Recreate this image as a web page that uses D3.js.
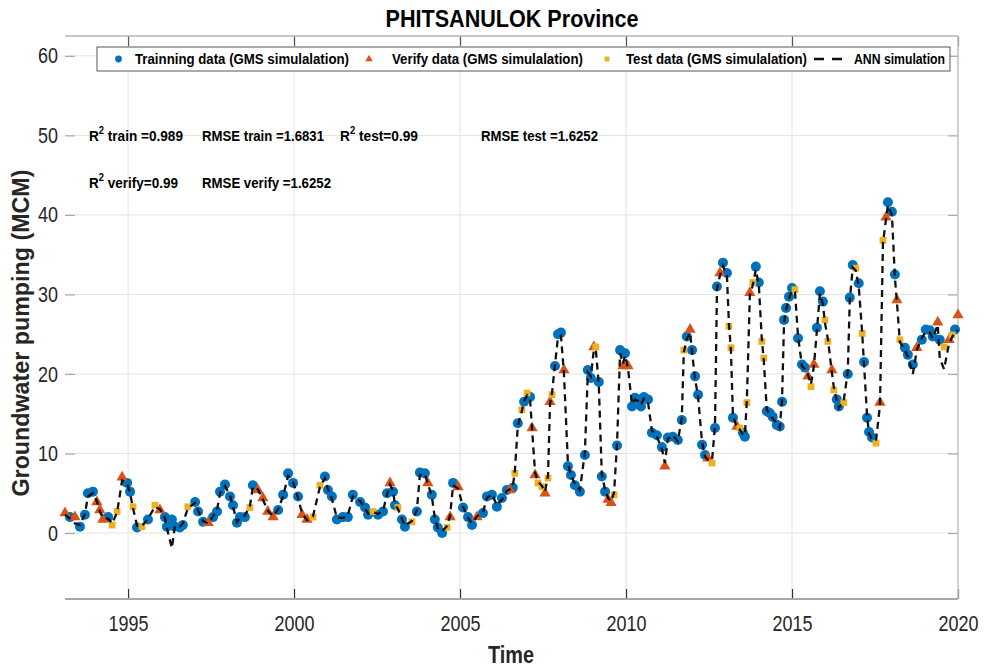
<!DOCTYPE html>
<html><head><meta charset="utf-8">
<script src="https://cdn.jsdelivr.net/npm/d3@7"></script>
<style>body{margin:0;background:#fff;} svg{display:block;font-family:"Liberation Sans",Arial,sans-serif;}</style>
</head><body><svg id="c" width="984" height="670"></svg>
<script>
// ---------- data ----------
const time = [1993.10,1993.25,1993.40,1993.55,1993.70,1993.79,1993.94,1994.06,1994.15,1994.24,
1994.40,1994.52,1994.67,1994.82,1994.97,1995.06,1995.15,1995.27,1995.42,1995.60,
1995.81,1995.96,1996.11,1996.17,1996.32,1996.41,1996.56,1996.65,1996.80,1997.02,
1997.11,1997.26,1997.41,1997.56,1997.68,1997.77,1997.92,1998.07,1998.16,1998.28,
1998.37,1998.52,1998.67,1998.76,1998.91,1999.06,1999.21,1999.37,1999.52,1999.67,
1999.82,1999.97,2000.12,2000.24,2000.39,2000.57,2000.78,2000.93,2001.02,2001.14,
2001.29,2001.47,2001.62,2001.77,2001.99,2002.14,2002.23,2002.38,2002.53,2002.68,
2002.80,2002.89,2002.98,2003.04,2003.13,2003.25,2003.34,2003.55,2003.70,2003.79,
2003.94,2004.03,2004.15,2004.24,2004.33,2004.46,2004.61,2004.70,2004.79,2004.94,
2005.09,2005.24,2005.36,2005.51,2005.69,2005.81,2005.96,2006.11,2006.26,2006.41,
2006.50,2006.59,2006.65,2006.74,2006.86,2006.93,2007.02,2007.11,2007.17,2007.26,
2007.35,2007.47,2007.56,2007.65,2007.71,2007.77,2007.86,2007.95,2008.04,2008.13,
2008.25,2008.34,2008.46,2008.61,2008.76,2008.85,2008.94,2009.03,2009.09,2009.18,
2009.27,2009.37,2009.46,2009.55,2009.64,2009.73,2009.82,2009.91,2009.97,2010.06,
2010.18,2010.27,2010.36,2010.45,2010.54,2010.66,2010.78,2010.93,2011.08,2011.17,
2011.26,2011.41,2011.56,2011.68,2011.74,2011.83,2011.93,2011.99,2012.08,2012.17,
2012.29,2012.38,2012.47,2012.59,2012.68,2012.74,2012.83,2012.92,2013.04,2013.10,
2013.16,2013.22,2013.34,2013.43,2013.52,2013.58,2013.64,2013.73,2013.82,2013.91,
2014.00,2014.09,2014.15,2014.24,2014.33,2014.42,2014.54,2014.63,2014.70,2014.76,
2014.82,2014.91,2015.00,2015.09,2015.18,2015.30,2015.39,2015.48,2015.57,2015.66,
2015.75,2015.84,2015.93,2015.99,2016.08,2016.20,2016.26,2016.35,2016.41,2016.56,
2016.68,2016.74,2016.83,2016.92,2017.01,2017.11,2017.17,2017.26,2017.32,2017.41,
2017.53,2017.65,2017.74,2017.83,2017.89,2018.01,2018.10,2018.16,2018.25,2018.40,
2018.49,2018.64,2018.76,2018.91,2019.03,2019.15,2019.24,2019.39,2019.45,2019.58,
2019.73,2019.82,2019.91,2020.00];

// GMS simulated groundwater pumping (MCM)
const gms = [2.5,2.0,2.0,0.8,2.3,5.0,5.2,3.9,2.9,1.7,
2.0,1.0,2.7,7.0,6.3,5.2,3.3,0.7,0.8,1.7,
3.5,2.9,2.0,0.8,1.7,0.8,0.7,1.0,3.3,3.9,
2.7,1.4,1.3,2.0,2.7,5.2,6.1,4.6,3.5,1.3,
2.0,2.0,3.2,6.0,5.4,4.4,2.7,2.0,2.9,4.8,
7.5,6.3,4.6,2.3,1.7,2.0,6.0,7.1,5.4,4.6,
1.7,2.0,2.0,4.8,3.9,3.2,2.3,2.7,2.3,2.7,
5.0,6.3,5.2,3.5,3.2,1.7,0.8,1.4,2.7,7.6,
7.5,6.3,4.8,1.7,0.7,0.0,0.7,2.0,6.3,5.8,
3.2,2.0,1.0,2.0,2.5,4.6,4.8,3.3,4.4,5.4,
5.4,5.7,7.5,13.8,15.5,16.5,17.6,17.1,13.2,7.3,
6.3,5.8,5.0,6.9,16.5,17.4,21.0,25.0,25.2,20.5,
8.4,7.3,6.0,5.2,9.8,20.5,19.5,23.4,23.4,19.0,
7.1,5.2,4.2,3.8,4.8,11.0,23.0,21.0,22.6,21.0,
15.9,17.0,16.8,15.9,17.1,16.8,12.6,12.3,10.8,8.4,
12.0,12.1,11.7,14.2,23.0,24.7,25.6,23.0,19.7,17.4,
11.1,9.8,9.4,8.8,13.2,31.0,32.7,34.0,32.7,26.0,
23.3,14.5,13.4,13.2,12.6,12.1,16.4,30.2,31.5,33.5,
31.5,24.1,22.0,15.3,15.1,14.6,13.6,13.4,16.5,26.8,
28.3,29.7,30.8,30.6,24.5,21.2,20.8,19.7,18.4,21.2,
25.8,30.4,29.1,26.8,24.1,20.5,18.0,16.8,15.9,16.4,
20.0,29.6,33.7,33.3,31.4,25.1,21.5,14.5,12.7,12.0,
11.3,16.4,36.8,39.7,41.6,40.4,32.5,29.3,24.3,23.3,
22.4,21.2,23.3,24.3,25.6,25.5,24.7,26.5,24.3,23.4,
24.3,24.9,25.6,27.4];

// data subset of each point: 0 = training, 1 = verify, 2 = test
const subset = [1,0,1,0,0,0,0,1,1,1,
0,2,2,1,0,0,2,0,2,0,
2,1,0,0,0,0,0,0,2,0,
0,0,1,0,0,0,0,0,0,0,
0,0,2,0,1,1,1,1,0,0,
0,0,0,1,1,2,2,0,0,0,
0,0,0,0,0,0,0,2,0,0,
0,1,0,0,2,0,0,2,0,0,
0,1,0,0,0,0,2,1,0,1,
0,0,0,1,0,0,0,0,0,0,
1,0,2,0,2,0,2,0,1,1,
2,2,1,2,1,2,0,0,0,1,
0,0,0,0,0,0,0,1,2,0,
0,0,1,1,2,0,0,1,0,1,
0,0,0,0,0,0,0,0,0,1,
0,0,0,0,2,0,1,0,0,0,
0,0,1,2,0,0,1,0,0,2,
2,0,1,2,0,0,2,1,2,0,
0,2,2,0,0,0,0,0,0,0,
0,0,0,2,0,0,0,1,2,1,
0,0,0,2,2,1,2,0,0,2,
0,0,0,2,0,2,0,0,0,0,
2,1,2,1,0,0,0,1,2,0,
0,0,1,0,0,0,0,1,0,2,
1,2,0,1];

// ANN simulation (MCM)
const ann = [2.3,1.8,1.2,1.0,2.4,4.6,5.0,4.0,2.7,1.9,
1.8,1.2,2.6,6.6,6.2,5.0,3.1,0.9,0.9,1.8,
3.3,3.0,1.9,0.6,-1.9,0.9,0.8,1.2,3.1,3.8,
2.8,1.5,1.2,2.1,2.9,5.0,5.9,4.7,3.3,1.4,
1.9,2.2,3.4,5.8,5.5,4.2,2.8,2.1,3.0,4.6,
7.2,6.4,4.4,2.5,1.6,2.1,5.8,6.9,5.5,4.3,
1.9,1.9,2.2,4.6,4.0,3.1,2.4,2.6,2.4,2.8,
4.8,6.1,5.3,3.6,3.0,1.8,0.9,1.5,2.9,7.3,
7.4,6.2,4.6,1.9,0.6,0.2,0.9,2.2,6.0,5.6,
3.3,1.9,1.2,2.1,2.6,4.4,4.9,3.5,4.2,5.3,
5.5,5.9,7.7,13.5,15.3,16.6,17.3,16.8,13.0,7.6,
6.5,5.9,5.2,7.2,16.2,17.6,21.2,24.6,24.8,20.1,
8.7,7.2,6.2,5.4,10.1,20.2,19.7,23.0,23.1,18.6,
7.4,5.4,4.4,4.0,5.1,11.3,22.6,21.3,22.3,20.7,
16.2,16.8,16.6,16.1,16.9,16.5,12.9,12.1,10.6,8.8,
11.8,12.3,11.5,14.5,22.7,24.4,25.2,22.7,19.4,17.1,
11.4,9.6,9.2,9.1,13.5,30.7,32.4,33.6,32.3,26.3,
23.0,14.8,13.2,13.0,12.4,12.3,16.7,29.9,31.2,33.1,
31.2,24.4,21.7,15.5,14.9,14.4,13.8,13.2,16.8,26.5,
28.0,29.5,30.5,30.3,24.8,21.0,20.6,19.9,18.7,21.0,
25.5,30.1,28.8,26.5,24.4,20.2,18.3,16.6,15.7,16.7,
20.3,29.3,33.4,33.0,31.0,25.4,21.2,14.8,12.5,11.8,
11.6,16.1,36.5,39.4,41.2,40.0,32.1,29.0,24.0,23.0,
22.2,20.0,23.0,24.5,25.3,25.2,24.5,26.2,22.0,20.6,
23.8,24.6,25.3,25.5];

const xTicks = [1995,2000,2005,2010,2015,2020];
const yTicks = [0,10,20,30,40,50,60];
const seriesNames = ["Trainning data (GMS simulalation)","Verify data (GMS simulalation)","Test data (GMS simulalation)","ANN simulation"];
const statR2 = [true,false,true,false,true,false];
const statText = [" train =0.989","RMSE train =1.6831"," test=0.99","RMSE test =1.6252"," verify=0.99","RMSE verify =1.6252"];
const titleText = "PHITSANULOK Province";
const xLabel = "Time";
const yLabel = "Groundwater pumping (MCM)";

// ---------- layout ----------
const P = {l:65, r:958, t:36, b:599};
const colors = ["#0072BD","#D95319","#EDB120"];
const svg = d3.select("#c");
const x = d3.scaleLinear().domain([1993.1,2020]).range([P.l,P.r]);
const y = d3.scaleLinear().domain([-8.3,62.5]).range([P.b,P.t]);

svg.append("rect").attr("width",984).attr("height",670).attr("fill","#fff");

// grid
const grid = svg.append("g");
grid.selectAll(".gx").data(xTicks).join("line")
  .attr("x1",d=>x(d)).attr("x2",d=>x(d)).attr("y1",P.t).attr("y2",P.b)
  .attr("stroke","#e3e3e3").attr("stroke-width",1);
grid.selectAll(".gy").data(yTicks).join("line")
  .attr("x1",P.l).attr("x2",P.r).attr("y1",d=>y(d)).attr("y2",d=>y(d))
  .attr("stroke","#e3e3e3").attr("stroke-width",1);

// axes
const fix = (g, col) => { g.select(".domain").remove(); g.selectAll(".tick line").attr("stroke",col).attr("stroke-width",1.2); };
const gxB = svg.append("g").attr("transform",`translate(0,${P.b})`)
  .call(d3.axisBottom(x).tickValues(xTicks).tickFormat(d3.format("d")).tickSizeInner(-10).tickSizeOuter(0).tickPadding(16.5));
fix(gxB,"#333");
const gxT = svg.append("g").attr("transform",`translate(0,${P.t})`)
  .call(d3.axisTop(x).tickValues(xTicks).tickFormat("").tickSizeInner(-10).tickSizeOuter(0));
fix(gxT,"#555");
const gyL = svg.append("g").attr("transform",`translate(${P.l},0)`)
  .call(d3.axisLeft(y).tickValues(yTicks).tickSizeInner(-10).tickSizeOuter(0).tickPadding(7));
fix(gyL,"#aaa");
const gyR = svg.append("g").attr("transform",`translate(${P.r},0)`)
  .call(d3.axisRight(y).tickValues(yTicks).tickFormat("").tickSizeInner(-10).tickSizeOuter(0));
fix(gyR,"#aaa");
svg.selectAll(".tick text").attr("font-family","'Liberation Sans',Arial,sans-serif")
  .attr("font-size",22).attr("fill","#262626")
  .attr("textLength",function(){return this.textContent.length*10;}).attr("lengthAdjust","spacingAndGlyphs");
// keep the last year label inside the picture
gxB.selectAll(".tick text").filter(d=>d===2020).attr("text-anchor","end").attr("x",20);

// box lines (no left line)
svg.append("line").attr("x1",P.l).attr("x2",P.r).attr("y1",P.t).attr("y2",P.t).attr("stroke","#b4b4b4").attr("stroke-width",1.5);
svg.append("line").attr("x1",P.l).attr("x2",P.r).attr("y1",P.b).attr("y2",P.b).attr("stroke","#a8a8a8").attr("stroke-width",1.8);
svg.append("line").attr("x1",P.r).attr("x2",P.r).attr("y1",P.t).attr("y2",P.b).attr("stroke","#c4c4c4").attr("stroke-width",1.5);

// points
const pts = time.map((t,i)=>({t, v:gms[i], s:subset[i], a:ann[i]}));
const plot = svg.append("g");
plot.selectAll(".tr").data(pts.filter(d=>d.s===0)).join("circle")
  .attr("cx",d=>x(d.t)).attr("cy",d=>y(d.v)).attr("r",5).attr("fill",colors[0]);
plot.selectAll(".va").data(pts.filter(d=>d.s===1)).join("path")
  .attr("d",d3.symbol(d3.symbolTriangle,55))
  .attr("transform",d=>`translate(${x(d.t)},${y(d.v)})`).attr("fill",colors[1]);
plot.selectAll(".te").data(pts.filter(d=>d.s===2)).join("path")
  .attr("d",d3.symbol(d3.symbolSquare,46))
  .attr("transform",d=>`translate(${x(d.t)},${y(d.v)})`).attr("fill",colors[2]);
plot.append("path").datum(pts)
  .attr("d",d3.line().x(d=>x(d.t)).y(d=>y(d.a)))
  .attr("fill","none").attr("stroke","#111").attr("stroke-width",2.3).attr("stroke-dasharray","7,5");

// legend
const lg = svg.append("g");
lg.append("rect").attr("x",97).attr("y",47).attr("width",853).attr("height",24)
  .attr("fill","#fff").attr("stroke","#444").attr("stroke-width",0.9);
const ly = 59;
lg.append("circle").attr("cx",118.5).attr("cy",ly).attr("r",3.4).attr("fill",colors[0]);
lg.append("path").attr("d",d3.symbol(d3.symbolTriangle,24)).attr("transform",`translate(369,${ly})`).attr("fill",colors[1]);
lg.append("path").attr("d",d3.symbol(d3.symbolSquare,24)).attr("transform",`translate(607,${ly})`).attr("fill",colors[2]);
lg.append("line").attr("x1",814).attr("x2",846).attr("y1",ly).attr("y2",ly)
  .attr("stroke","#111").attr("stroke-width",2.3).attr("stroke-dasharray","10,8");
const lgX = [[135,214],[392,191],[626,181],[854,91]];
seriesNames.forEach((n,i)=>{
  lg.append("text").attr("x",lgX[i][0]).attr("y",64).attr("font-size",14).attr("font-weight","bold")
    .attr("textLength",lgX[i][1]).attr("lengthAdjust","spacingAndGlyphs").attr("fill","#000").text(n);
});

// statistics annotations
const stPos = [[89,141,94],[202,141,122],[340,141,78],[481,141,117],[89,188,89],[202,188,129]];
statText.forEach((s,i)=>{
  const t = svg.append("text").attr("x",stPos[i][0]).attr("y",stPos[i][1])
    .attr("font-size",14.5).attr("font-weight","bold").attr("fill","#000")
    .attr("textLength",stPos[i][2]).attr("lengthAdjust","spacingAndGlyphs");
  if(statR2[i]){
    t.append("tspan").text("R");
    t.append("tspan").attr("dy",-7).attr("font-size",10).text("2");
    t.append("tspan").attr("dy",7).text(s);
  } else t.text(s);
});

// titles
svg.append("text").attr("x",512).attr("y",27).attr("text-anchor","middle")
  .attr("font-size",23).attr("font-weight","bold").attr("fill","#000")
  .attr("textLength",253).attr("lengthAdjust","spacingAndGlyphs").text(titleText);
svg.append("text").attr("x",511).attr("y",663).attr("text-anchor","middle")
  .attr("font-size",23).attr("font-weight","bold").attr("fill","#262626")
  .attr("textLength",46).attr("lengthAdjust","spacingAndGlyphs").text(xLabel);
svg.append("text").attr("transform","translate(29,333) rotate(-90)").attr("text-anchor","middle")
  .attr("font-size",23).attr("font-weight","bold").attr("fill","#262626")
  .attr("textLength",327).attr("lengthAdjust","spacingAndGlyphs").text(yLabel);
</script>
</body></html>
